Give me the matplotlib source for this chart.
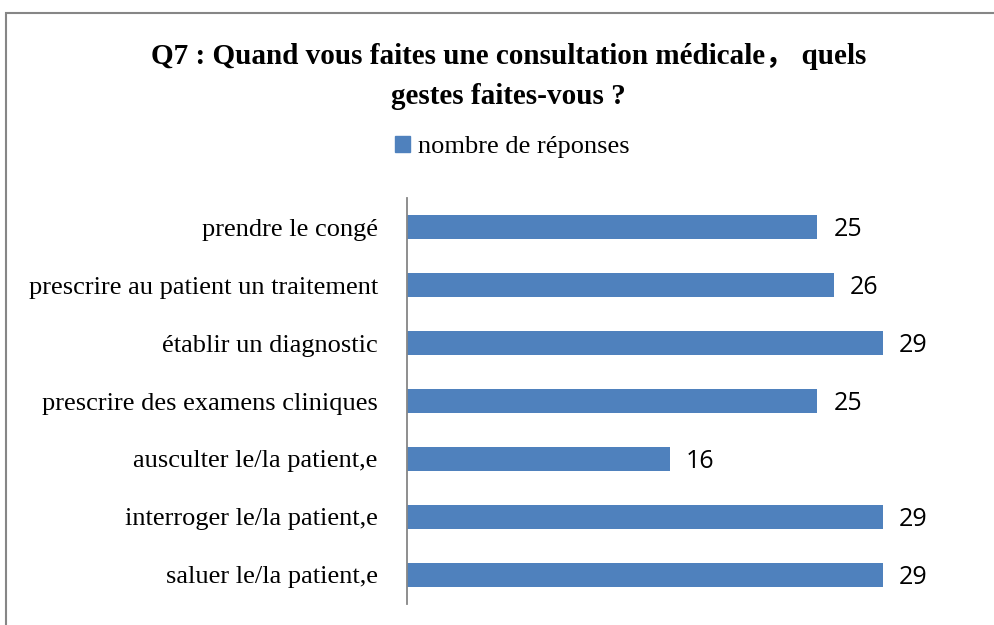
import matplotlib
matplotlib.use("Agg")
import matplotlib.pyplot as plt
from matplotlib.patches import Rectangle, Patch

CATEGORIES = [
    "saluer le/la patient,e",
    "interroger le/la patient,e",
    "ausculter le/la patient,e",
    "prescrire des examens cliniques",
    "établir un diagnostic",
    "prescrire au patient un traitement",
    "prendre le congé",
]
VALUES = [29, 29, 16, 25, 29, 26, 25]
SERIES_NAME = "nombre de réponses"
TITLE = "Q7 : Quand vous faites une consultation médicale， quels\ngestes faites-vous ?"

BAR_COLOR = "#4F81BD"
SERIF = ["Liberation Serif", "Noto Sans CJK SC", "DejaVu Serif"]

fig = plt.figure(figsize=(9.95, 6.25), dpi=100)
ax = fig.add_axes([0.409, 0.0336, 0.561, 0.6496])

ypos = range(len(CATEGORIES))
ax.barh(ypos, VALUES, height=0.4, color=BAR_COLOR)
ax.set_ylim(-0.5, len(CATEGORIES) - 0.5)
ax.set_xlim(0, 34)

ax.set_yticks(list(ypos))
ax.set_yticklabels(CATEGORIES, fontsize=19, family=SERIF)
ax.tick_params(axis="y", length=0, pad=21)
ax.set_xticks([])
for side in ("top", "right", "bottom"):
    ax.spines[side].set_visible(False)
ax.spines["left"].set_color("#868686")
ax.spines["left"].set_linewidth(1.3)

for y, v in zip(ypos, VALUES):
    ax.annotate(str(v), (v, y), xytext=(16, -2), textcoords="offset pixels",
                va="center", ha="left", fontsize=18, family="Open Sans")

fig.text(0.511, 0.932, TITLE, ha="center", va="top", fontsize=21,
         fontweight="bold", family=SERIF, linespacing=1.65)

fig.legend(handles=[Patch(color=BAR_COLOR, label=SERIES_NAME)],
           loc="center", bbox_to_anchor=(0.515, 0.765), frameon=False,
           prop={"family": SERIF, "size": 19},
           handlelength=0.55, handleheight=0.55, handletextpad=0.3)

fig.patches.append(Rectangle((5.5 / 995, -0.1), 1.2, 1.1 - 12.5 / 625,
                             transform=fig.transFigure, fill=False,
                             edgecolor="#868686", linewidth=1.5))

fig.savefig("out.png", dpi=100)
